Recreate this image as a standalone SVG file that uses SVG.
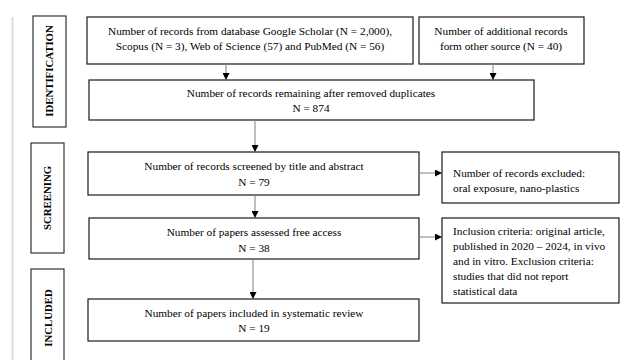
<svg xmlns="http://www.w3.org/2000/svg" width="621" height="360" viewBox="0 0 621 360">
<defs>
<marker id="ah" viewBox="0 0 10 10" refX="10" refY="5" markerWidth="7" markerHeight="7" markerUnits="userSpaceOnUse" orient="auto">
<path d="M0,0 L10,5 L0,10 z" fill="#000"/>
</marker>
<style>
.box{fill:#fff;stroke:#1a1a1a;stroke-width:1.2}
.lab{fill:#fff;stroke:#333;stroke-width:1.2}
.t{font-size:11.3px;fill:#000}
.c{text-anchor:middle}
.v{font-size:10.8px;font-weight:bold;text-anchor:middle;fill:#000}
.con{stroke:#808080;stroke-width:1;fill:none;marker-end:url(#ah)}
</style>
</defs>
<rect width="621" height="360" fill="#fff"/>
<line x1="12.5" y1="17" x2="12.5" y2="360" stroke="#dcdcdc" stroke-width="2"/>

<g font-family="'Liberation Serif', 'DejaVu Serif', serif">
<g id="label-identification">
<rect class="lab" x="33" y="16" width="33" height="111"/>
<text class="v" transform="translate(53,71) rotate(-90)">IDENTIFICATION</text>
</g>
<g id="label-screening">
<rect class="lab" x="31" y="143" width="33" height="110"/>
<text class="v" transform="translate(51,198) rotate(-90)">SCREENING</text>
</g>
<g id="label-included">
<rect class="lab" x="31" y="269" width="33" height="100"/>
<text class="v" transform="translate(52,318) rotate(-90)">INCLUDED</text>
</g>

<g id="box-databases">
<rect class="box" x="87" y="17" width="326" height="47"/>
<text class="t c" x="250" y="35">Number of records from database Google Scholar (N = 2,000),</text>
<text class="t c" x="250" y="50">Scopus (N = 3), Web of Science (57) and PubMed (N = 56)</text>
</g>
<g id="box-additional">
<rect class="box" x="419" y="17" width="165" height="47"/>
<text class="t c" x="501" y="35">Number of additional records</text>
<text class="t c" x="501" y="50">form other source (N = 40)</text>
</g>
<g id="box-remaining">
<rect class="box" x="89" y="80" width="445" height="40"/>
<text class="t c" x="311" y="97">Number of records remaining after removed duplicates</text>
<text class="t c" x="311" y="112">N = 874</text>
</g>
<g id="box-screened">
<rect class="box" x="88" y="152" width="331" height="43"/>
<text class="t c" x="254" y="170">Number of records screened by title and abstract</text>
<text class="t c" x="254" y="186">N = 79</text>
</g>
<g id="box-excluded">
<rect class="box" x="442" y="152" width="177" height="51"/>
<text class="t" x="453" y="177">Number of records excluded:</text>
<text class="t" x="453" y="192">oral exposure, nano-plastics</text>
</g>
<g id="box-assessed">
<rect class="box" x="89" y="218" width="330" height="41"/>
<text class="t c" x="254" y="236">Number of papers assessed free access</text>
<text class="t c" x="254" y="252">N = 38</text>
</g>
<g id="box-criteria">
<rect class="box" x="442" y="218" width="177" height="85"/>
<text class="t" x="453" y="235">Inclusion criteria: original article,</text>
<text class="t" x="453" y="250">published in 2020 – 2024, in vivo</text>
<text class="t" x="453" y="265">and in vitro. Exclusion criteria:</text>
<text class="t" x="453" y="280">studies that did not report</text>
<text class="t" x="453" y="295">statistical data</text>
</g>
<g id="box-included">
<rect class="box" x="88" y="299" width="331" height="42"/>
<text class="t c" x="254" y="317">Number of papers included in systematic review</text>
<text class="t c" x="254" y="332">N = 19</text>
</g>
</g>

<g id="connectors">
<line class="con" x1="226" y1="64" x2="226" y2="80"/>
<line class="con" x1="493" y1="64" x2="493" y2="80"/>
<line class="con" x1="255" y1="120" x2="255" y2="152"/>
<line class="con" x1="419" y1="173" x2="442" y2="173"/>
<line class="con" x1="255" y1="195" x2="255" y2="218"/>
<line class="con" x1="419" y1="237" x2="442" y2="237"/>
<line class="con" x1="253" y1="259" x2="253" y2="299"/>
</g>
</svg>
